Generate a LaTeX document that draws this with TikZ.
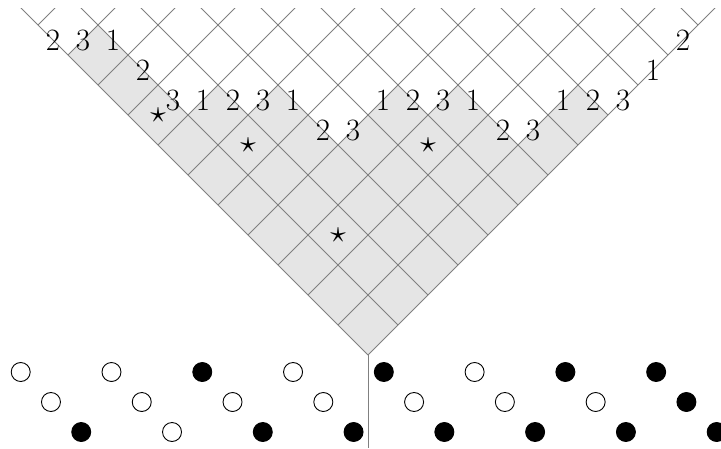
\documentclass[tikz,border=0pt]{standalone}
\tikzset{
  gridline/.style={draw=gray, line width=0.8pt},
  lbl/.style={inner sep=0pt, font=\fontsize{31}{31}\selectfont},
  wdot/.style={circle, draw=black, line width=0.9pt, fill=white, minimum size=19pt, inner sep=0pt},
  bdot/.style={wdot, fill=black},
}
\newcommand{\bigstarsym}{\scalebox{3.1}{$\star$}}
\begin{document}
\begin{tikzpicture}[x=1pt,y=-1pt]
\useasboundingbox (0,0) rectangle (721,448);
\clip (0,0) rectangle (721,448);
\coordinate (apex) at (368,355);
\coordinate (bot) at (368,448);
% shaded region below the path
\fill[gray!20] (apex) -- (68,55) -- (98,25) -- (128,55) -- (158,85) -- (188,115) -- (218,85)
  -- (248,115) -- (278,85) -- (308,115) -- (338,145) -- (368,115) -- (398,85) -- (428,115)
  -- (458,85) -- (488,115) -- (518,145) -- (548,115) -- (578,85) -- (608,115) -- cycle;
% grid
\begin{scope}
  \clip (368,356.4) -- (19.6,8) -- (716.4,8) -- cycle;
  \foreach \i in {0,...,12} {
    \draw[gridline] ({368+30*\i},{355-30*\i}) -- ++(-420,-420);
    \draw[gridline] ({368-30*\i},{355-30*\i}) -- ++(420,-420);
  }
\end{scope}
\draw[gridline] (apex) -- (bot);
% labels
\foreach \pu/\pv/\lab [count=\n] in {-10.5/10.5/2, -9.5/10.5/3, -8.5/10.5/1, -7.5/9.5/2,
  -6.5/8.5/3, -5.5/8.5/1, -4.5/8.5/2, -3.5/8.5/3, -2.5/8.5/1, -1.5/7.5/2, -0.5/7.5/3,
  0.5/8.5/1, 1.5/8.5/2, 2.5/8.5/3, 3.5/8.5/1, 4.5/7.5/2, 5.5/7.5/3, 6.5/8.5/1,
  7.5/8.5/2, 8.5/8.5/3, 9.5/9.5/1, 10.5/10.5/2}
  \node[lbl] (l\n) at ({368+30*\pu},{355-30*\pv}) {\lab};
% stars
\node[inner sep=0pt] (s1) at (158,115) {\bigstarsym};
\node[inner sep=0pt] (s2) at (248,145) {\bigstarsym};
\node[inner sep=0pt] (s3) at (338,235) {\bigstarsym};
\node[inner sep=0pt] (s4) at (428,145) {\bigstarsym};
% circles
\foreach \c [count=\k from 0] in {wdot,wdot,bdot,wdot,wdot,wdot,bdot,wdot,bdot,wdot,wdot,bdot,
  bdot,wdot,bdot,wdot,wdot,bdot,bdot,wdot,bdot,bdot,bdot,bdot} {
  \pgfmathtruncatemacro\r{mod(\k,3)}
  \node[\c] (c\k) at ({368.7+30.26*(\k-11.5)},{372+30*\r}) {};
}
\end{tikzpicture}
\end{document}
